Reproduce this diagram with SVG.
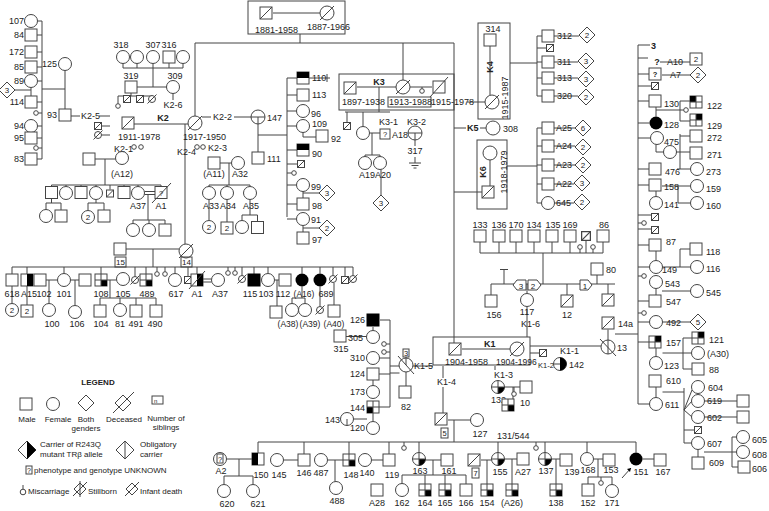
<svg xmlns="http://www.w3.org/2000/svg" width="769" height="511" viewBox="0 0 769 511">
<style>
.n{fill:#fff;stroke:#444;stroke-width:1}
.l{stroke:#444;stroke-width:1;fill:none}
.bx{fill:none;stroke:#444;stroke-width:1}
text{font-family:"Liberation Sans",Arial,sans-serif;font-size:9px;fill:#222}
.b{font-weight:bold}
.e{text-anchor:end}
.m{text-anchor:middle}
.g{font-size:8px}
.s7{font-size:7.5px}
</style>
<defs>
<rect id="S" class="n" x="-6" y="-6" width="12" height="12"/>
<circle id="C" class="n" r="6.5"/>
<circle id="c" class="n" r="2.3"/>
<path id="D" class="n" d="M0-8L8 0 0 8-8 0Z"/>
<g id="SD"><use href="#S"/><path class="l" d="M-6 6L6-6"/></g>
<g id="CD"><circle class="n" r="7"/><path class="l" d="M-7 7L7-7"/></g>
<g id="sd"><rect class="n" x="-3.5" y="-3.5" width="7" height="7"/><path class="l" d="M-3.5 3.5L3.5-3.5"/></g>
<g id="cd"><circle class="n" r="3.5"/><path class="l" d="M-4.5 4.5L4.5-4.5"/></g>
<g id="SBR"><use href="#S"/><rect x="0" y="0" width="6" height="6"/><path class="l" d="M0-6V6M-6 0H6"/></g>
<g id="STR"><use href="#S"/><rect x="0" y="-6" width="6" height="6"/><path class="l" d="M0-6V6M-6 0H6"/></g>
<g id="STL"><use href="#S"/><rect x="-6" y="-6" width="6" height="6"/><path class="l" d="M0-6V6M-6 0H6"/></g>
<g id="SBL"><use href="#S"/><rect x="-6" y="0" width="6" height="6"/><path class="l" d="M0-6V6M-6 0H6"/></g>
<g id="SR"><use href="#S"/><rect x="0" y="-6" width="6" height="12"/></g>
<g id="SL"><use href="#S"/><rect x="-6" y="-6" width="6" height="12"/></g>
<g id="ST"><use href="#S"/><rect x="-6" y="-6" width="12" height="6"/></g>
<rect id="SK" x="-6.5" y="-6.5" width="13" height="13"/>
<circle id="CK" r="6.5"/>
<g id="CBR"><use href="#C"/><path d="M0 0H6.5A6.5 6.5 0 0 1 0 6.5Z"/><path class="l" d="M0-6.5V6.5M-6.5 0H6.5"/></g>
<g id="CR"><use href="#C"/><path d="M0-6.5A6.5 6.5 0 0 1 0 6.5Z"/><path class="l" d="M-6.5 0H0"/></g>
<g id="CO"><circle class="n" r="7"/><path class="l" d="M-7 0H7M0 0V7"/></g>
</defs>
<rect width="769" height="511" fill="#fff"/>

<g id="connectors">
<path class="l" d="M42 21V159M37.5 21H42M37 35H42M37 52H42M37 67H42M37.5 81H42M37 102H42M38.3 113H42M37.5 126H42M37 138H42M38.3 148H42M37 159H42M31 87.5V96M15 90H31M42 89H65M65 70.5V109M71 116H80M99 116H110M101.5 126H110M101.5 135H110"/>
<path class="l" d="M137 87H166.5M153 68V87M123 68H183M123 63.5V68M137 63.5V68M153 63.5V68M169 63V68M183 63.5V68M131 93V96M118 96H152M118 96V103.7M173 93.5V100M134 124H188M202 117H211M234 117H251M258 124V152M258 135H287M287 78V217M287 78H297M287 95H297M287 111H296.5M287 126H296.5M287 150H297M287 164H297.5M287 173H291.7M287 185H296.5M287 204H297M287 219H296.5M309 78H330M327 74V82M303 132.5V137H316M303 191.5V198M303 193H319M303 225.5V232M303 228H319"/>
<path class="l" d="M273 13H320M300 34V43M195 43H454M195 43V116M403 43V80M454 43V343M185 124V244"/>
<path class="l" d="M220 163H231.5M229 163V185M209 185H250M209 185V186.5M227 185V186.5M250 185V186.5M209 199.5V220.5M227 199.5V222M250 199.5V215M242 215H257.5M242 215V220.5M257.5 215V221.5"/>
<path class="l" d="M95 159H115.5M105 159V185M51.5 185H161M51.5 185V186.5M66 185V186.5M81 185V186.5M96 185V186.5M110 185V189.5M124 185V186.5M138 185V186.5M161 185V186.5M144.5 191.5H155M144.5 194.5H155M148 194.5V220M133 220H165M133 220V223.5M149 220V223.5M165 220V224M51.5 198.5V203M46 203H61M46 203V209.5M61 203V210M96 199.5V203M88 203H104M88 203V210.5M104 203V210"/>
<path class="l" d="M126 249H179M153 249V267M12 267H353M12 267V274M27 267V274M64 267V273.5M101 267V274M135 267V276.5M146 267V274M157 267V271.7M165 267V271.7M175 267V273.5M188 267V276.5M197 267V274M228 267V270.7M235 267V270.7M242 267V275.5M254 267V274M268 267V273.5M302 267V273.5M320 267V273.5M333 267V275.5M345 267V276.5M353 267V275.5M46 280H57.5M49 280V303.5M70.5 280H79M75 280V305.5M107 280H116.5M110 280V298M100 298H156M100 298V305M120 298V303.5M136 298V305M156 298V305M12 286V303.5M27 286V305M203 279H211.5M203 282H211.5M274.5 280H279M277 280V306M302 286.5V298M292 298H305M292 298V303.5M305 298V303.5M320 286.5V306.5M334 283V305"/>
<path class="l" d="M357 87H396M410 87H432M422 87V88.7M379 87V112M345 112H390M347 112V122.5M363 112V126.5M369.5 133H380M372 133V155M365 155H380M365 155V156.5M380 155V156.5M381 169.5V195M415 140V146M415 157V163M409 163H421M411.5 165.5H418.5M413.5 168H416.5M467 102H485"/>
<path class="l" d="M490 46V95M510 63H537M537 36V96M537 36H542M537 48H546.5M537 62H542M537 78H542M537 96H542M554 36H579M554 62H578M554 78H578M554 96H578M454 128H466M480 128H486M490 160V186M454 192H482M507 166H537M537 128V203M537 128H542M537 146H542M537 165H542M537 184H542M537 203H541.5M554 128H575M554 146H575M554 165H575M554 184H574M554.5 203H574"/>
<path class="l" d="M480 242V253M499 242V253M516 242V253M534 242V253M552 242V253M570 242V253M586 240.5V253M580 249.3V253M593 249.3V253M603 242V253M480 253H603M543 253V284M491 284H615M491 284V295M504 270V284M500 269.5H508M527 284V293.5M567 284V295M597 275V284M608 284V294M527 306.5V337M608 329.5V340M615 334H638"/>
<path class="l" d="M462 349H510M530 346H601M530 353H539.5M390 366H433M443 366V378M443 387V413M495 366V370M504.5 387H520M514 387V391.7M513 387V399M390 320V407M380 320H390M386.3 344H390M386.3 352H390M379.5 358H390M379 374H390M379 407H390M390 373H399.5M406 372V386M373 380V385.5M373 413V421.5M353.5 419H367M346 336.5H366.5M373 327V330.5"/>
<path class="l" d="M448 420H470.5M454 420V442M258 442H636M258 442V453M304 442V454M349 442V454M389 442V454M404 442V445.7M419 442V452.5M498 442V452.5M536 442V445.7M545 442V452.5M587 442V452.5M636 442V452.5M226.5 459H252M239 459V476M224 476H253M224 476V484.5M253 476V484.5M283.5 460H298M327.5 460H343M335 460V481.5M371.5 460H383M425.5 460H441M433 460V475M402 475H466M402 475V483.5M425 475V484M445 475V484M466 475V484M481 460H491.5M487 460V484M504.5 459H517M512 459V484M551.5 459H560M556 459V484M593.5 459H603M598 459V477M588 477H612M588 477V484M612 477V484.5M601 477V480.7M642.5 459H654M622 478L631 468"/>
<path d="M631 468l-4 1 3 3z"/>
<path class="l" d="M638 45V404M638 45H650M638 58H648M660 62H690M638 74H649M662 75H690M638 86H651.5M638 101H649M638 123H649.5M638 138H650.5M638 169H649M656 107V116.5M656 110H680M680 101V121M680 101H690M680 121H690M680 110H683.7M656 144.5V152M656 152H690M680 134V169M680 136H690M677 169H690.5M638 185H649M656 191V196.5M662 186H690.5M678 186V203M678 203H690.5M638 215H651.5M638 223H641.7M638 229H651.5M638 245H649M656 251V260.5M638 267H649.5M662.5 267H690.5M680 249V267M680 249H690M638 276H641.7M656 288.5V295M662 291H690.5M638 301H649M638 313H641.7M638 322H649.5M662.5 322H690M638 342H649M656 348V356.5M662.5 353H691.5M683 338V369M683 338H692M683 369H692M656 387V397.5M638 404H649.5M662.5 392H684M684 388V443M684 410L692 390M684 410L692 401M684 410L692 417M684 430H694.5M684 443H691.5M704.5 401H737M704.5 417H737M698 449.5V457M704 452H732M732 437V467M732 437H736.5M732 452H736.5M732 467H738"/>
</g>

<g id="top">
<rect class="bx" x="248" y="1" width="97" height="33"/>
<use href="#SD" x="266" y="13"/><use href="#CD" x="327" y="13"/>
<text x="255" y="33">1881-1958</text><text x="307" y="30">1887-1966</text>
</g>

<g id="leftcol">
<g id="n107"><use href="#C" x="31" y="21"/><text x="24" y="24" class="e">107</text></g>
<g id="n84"><use href="#S" x="31" y="35"/><text x="24" y="38" class="e">84</text></g>
<g id="n172"><use href="#S" x="31" y="52"/><text x="24" y="55" class="e">172</text></g>
<g id="n85"><use href="#S" x="31" y="67"/><text x="24" y="70" class="e">85</text></g>
<g id="n89"><use href="#C" x="31" y="81"/><text x="24" y="84" class="e">89</text></g>
<g id="d3a"><use href="#D" x="7" y="90"/><text x="7" y="93" class="m g">3</text></g>
<g id="n114"><use href="#S" x="31" y="102"/><text x="24" y="105" class="e">114</text></g>
<g id="m1"><use href="#c" x="36" y="113"/></g>
<g id="n94"><use href="#C" x="31" y="126"/><text x="24" y="129" class="e">94</text></g>
<g id="n95"><use href="#S" x="31" y="138"/><text x="24" y="141" class="e">95</text></g>
<g id="m2"><use href="#c" x="36" y="148"/></g>
<g id="n83"><use href="#S" x="31" y="159"/><text x="24" y="162" class="e">83</text></g>
<g id="n125"><use href="#C" x="65" y="64"/><text x="57" y="67" class="e">125</text></g>
<g id="n93"><use href="#S" x="65" y="115"/><text x="57" y="118" class="e">93</text></g>
<g id="k25"><text x="81" y="119">K2-5</text><use href="#sd" x="98" y="126"/><use href="#cd" x="98" y="135"/></g>
</g>

<g id="k2fam">
<g id="n319"><use href="#S" x="131" y="87"/><text x="131" y="79" class="m">319</text></g>
<g id="n309"><use href="#C" x="173" y="87"/><text x="175" y="79" class="m">309</text></g>
<g id="n318"><use href="#C" x="123" y="57"/><text x="121" y="48" class="m">318</text></g>
<g id="n318b"><use href="#C" x="137" y="57"/></g>
<g id="n307"><use href="#C" x="153" y="57"/><text x="153" y="48" class="m">307</text></g>
<g id="n316"><use href="#S" x="169" y="57"/><text x="169" y="48" class="m">316</text></g>
<g id="n316b"><use href="#C" x="183" y="57"/></g>
<g id="k2sib"><use href="#c" x="118" y="106"/><use href="#sd" x="127" y="99"/><use href="#sd" x="140" y="99"/><use href="#cd" x="152" y="99"/></g>
<text x="173" y="108" class="m">K2-6</text>
<g id="K2"><use href="#SD" x="128" y="123"/><text x="163" y="121" class="m b">K2</text><text x="118" y="140">1911-1978</text><text x="114" y="152">K2-1</text><use href="#c" x="134" y="147"/><use href="#c" x="141" y="147"/></g>
<g id="K2w"><use href="#CD" x="195" y="123"/><text x="183" y="140">1917-1950</text><text x="177" y="155">K2-4</text><use href="#c" x="197" y="147"/><use href="#c" x="203" y="147"/><text x="208" y="151">K2-3</text><text x="213" y="120">K2-2</text></g>
<g id="nA12h"><use href="#S" x="89" y="159"/></g>
<g id="nA12"><use href="#C" x="122" y="158"/><text x="122" y="177" class="m">(A12)</text></g>
<g id="a12kids">
<use href="#S" x="51.5" y="192.5"/><use href="#C" x="66" y="193"/><use href="#S" x="81" y="192.5"/><use href="#C" x="96" y="193"/><use href="#sd" x="110" y="193.5"/><use href="#S" x="124" y="192.5"/><use href="#C" x="138" y="193"/><text x="138" y="209" class="m">A37</text>
<use href="#S" x="161" y="192.5"/><path class="l" d="M152 203L171 183"/><text x="161" y="195.5" class="m s7">?</text><text x="161" y="209" class="m">A1</text>
<use href="#C" x="46" y="216"/><use href="#S" x="61" y="216"/><use href="#C" x="88" y="217"/><text x="88" y="220" class="m g">2</text><use href="#S" x="104" y="216"/>
<use href="#C" x="133" y="230"/><use href="#C" x="149" y="230"/><use href="#S" x="165" y="230"/>
</g>
<g id="nA11"><use href="#S" x="214" y="163"/><text x="214" y="177" class="m">(A11)</text></g>
<g id="nA32"><use href="#C" x="238" y="163"/><text x="240" y="177" class="m">A32</text></g>
<g id="nA33"><use href="#C" x="209" y="193"/><text x="211" y="209" class="m">A33</text><use href="#C" x="209" y="227"/><text x="209" y="230" class="m g">2</text></g>
<g id="nA34"><use href="#C" x="227" y="193"/><text x="228" y="209" class="m">A34</text><use href="#S" x="227" y="228"/><text x="227" y="231" class="m g">2</text></g>
<g id="nA35"><use href="#C" x="250" y="193"/><text x="251" y="209" class="m">A35</text><use href="#C" x="242" y="227"/><use href="#S" x="257.5" y="227.5"/></g>
<g id="n147"><use href="#CO" x="258" y="117"/><text x="267" y="121">147</text></g>
<g id="n111"><use href="#S" x="258" y="158"/><text x="267" y="162">111</text></g>
<g id="n110"><use href="#ST" x="303" y="78"/><text x="312" y="81">110</text></g>
<g id="n113"><use href="#S" x="303" y="95"/><text x="312" y="98">113</text></g>
<g id="n96"><use href="#C" x="303" y="111"/><text x="311" y="117">96</text></g>
<g id="n109"><use href="#C" x="303" y="126"/><text x="312" y="127">109</text></g>
<g id="n92"><use href="#S" x="322" y="136"/><text x="331" y="142">92</text></g>
<g id="n90"><use href="#ST" x="303" y="150"/><text x="312" y="157">90</text></g>
<g id="x1"><use href="#sd" x="301" y="164"/><use href="#c" x="294" y="173"/></g>
<g id="n99"><use href="#C" x="303" y="185"/><text x="311" y="190">99</text><use href="#D" x="327" y="193"/><text x="327" y="196" class="m g">3</text></g>
<g id="n98"><use href="#S" x="303" y="204"/><text x="312" y="209">98</text></g>
<g id="n91"><use href="#C" x="303" y="219"/><text x="311" y="223">91</text><use href="#D" x="327" y="228"/><text x="327" y="231" class="m g">2</text></g>
<g id="n97"><use href="#S" x="303" y="238"/><text x="312" y="243">97</text></g>
</g>

<g id="gen15">
<g id="n15"><use href="#S" x="120" y="249"/><rect class="bx" x="115" y="257" width="11" height="10"/><text x="120.5" y="265" class="m g">15</text></g>
<g id="n14"><use href="#CD" x="186" y="251"/><rect class="bx" x="181" y="257" width="11" height="10"/><text x="186.5" y="265" class="m g">14</text></g>
<g id="n618"><use href="#S" x="12" y="280"/><text x="12" y="297" class="m">618</text><use href="#C" x="12" y="310"/><text x="12" y="313" class="m g">2</text></g>
<g id="nA15"><use href="#SR" x="27" y="280"/><text x="29" y="297" class="m">A15</text><use href="#S" x="27" y="311"/><text x="27" y="314" class="m g">2</text></g>
<g id="n102"><use href="#S" x="40" y="280"/><text x="44" y="297" class="m">102</text></g>
<g id="n101"><use href="#C" x="64" y="280"/><text x="64" y="297" class="m">101</text></g>
<g id="n101h"><use href="#S" x="85" y="280"/></g>
<g id="n100"><use href="#C" x="49" y="310"/><text x="52" y="327" class="m">100</text></g>
<g id="n106"><use href="#C" x="75" y="312"/><text x="77" y="327" class="m">106</text></g>
<g id="n108"><use href="#SBR" x="101" y="280"/><text x="101" y="297" class="m">108</text></g>
<g id="n105"><use href="#C" x="123" y="279"/><text x="123" y="297" class="m">105</text></g>
<g id="n104"><use href="#S" x="100" y="311"/><text x="101" y="327" class="m">104</text></g>
<g id="n81"><use href="#C" x="120" y="310"/><text x="120" y="327" class="m">81</text></g>
<g id="n491"><use href="#S" x="136" y="311"/><text x="136" y="327" class="m">491</text></g>
<g id="n490"><use href="#S" x="156" y="311"/><text x="155" y="327" class="m">490</text></g>
<g id="x2"><use href="#cd" x="135" y="280"/><use href="#c" x="157" y="274"/><use href="#c" x="165" y="274"/><use href="#sd" x="188" y="280"/><use href="#c" x="228" y="273"/><use href="#c" x="235" y="273"/><use href="#cd" x="242" y="279"/></g>
<g id="n489"><use href="#SBR" x="146" y="280"/><text x="147" y="297" class="m">489</text></g>
<g id="n617"><use href="#C" x="175" y="280"/><text x="176" y="297" class="m">617</text></g>
<g id="nA1"><use href="#SR" x="197" y="280"/><path class="l" d="M189 289L205 271"/><text x="197" y="297" class="m">A1</text></g>
<g id="nA37"><use href="#C" x="218" y="280"/><text x="220" y="297" class="m">A37</text></g>
<g id="n115"><use href="#SK" x="254" y="280"/><text x="250" y="297" class="m">115</text></g>
<g id="n103"><use href="#C" x="268" y="280"/><text x="266" y="297" class="m">103</text></g>
<g id="n112"><use href="#S" x="285" y="280"/><text x="283" y="297" class="m">112</text></g>
<g id="n112c"><use href="#S" x="276" y="312"/></g>
<g id="nA16"><use href="#CK" x="302" y="280"/><text x="304" y="297" class="m" style="font-size:8.5px">(A16)</text></g>
<g id="n689"><use href="#CK" x="320" y="280"/><text x="326" y="297" class="m">689</text></g>
<g id="x3"><use href="#cd" x="333" y="279"/><use href="#sd" x="345" y="280"/><use href="#cd" x="353" y="279"/><use href="#cd" x="320" y="310"/></g>
<g id="nA38"><use href="#C" x="292" y="310"/><text x="288" y="327" class="m" style="font-size:8.5px">(A38)</text></g>
<g id="nA39"><use href="#C" x="305" y="310"/><text x="310" y="327" class="m" style="font-size:8.5px">(A39)</text></g>
<g id="nA40"><use href="#S" x="334" y="311"/><text x="334" y="327" class="m" style="font-size:8.5px">(A40)</text></g>
</g>

<g id="k3">
<rect class="bx" x="339" y="74" width="115" height="36"/>
<use href="#SD" x="350" y="88"/><text x="379" y="85" class="m b">K3</text>
<use href="#CD" x="403" y="87"/><use href="#c" x="422" y="91"/>
<use href="#S" x="439" y="87"/><path class="l" d="M430 97L448 77"/>
<text x="342" y="105">1897-1938</text><rect class="bx" x="388" y="97" width="43" height="10"/><text x="389" y="105">1913-1988</text><text x="431" y="105">1915-1978</text>
<use href="#sd" x="347" y="126"/><use href="#C" x="363" y="133"/>
<rect class="n" x="380" y="129" width="10" height="10"/><text x="385" y="137" class="m s7">?</text>
<text x="379" y="125">K3-1</text><text x="392" y="138">A18</text>
<use href="#CO" x="415" y="133"/><text x="407" y="125">K3-2</text><text x="415" y="154" class="m">317</text>
<use href="#C" x="365" y="163"/><use href="#C" x="380" y="163"/><text x="367" y="178" class="m">A19</text><text x="383" y="178" class="m">A20</text>
<use href="#D" x="381" y="203"/><text x="381" y="206" class="m g">3</text>
</g>

<g id="k4">
<rect class="bx" x="478" y="23" width="32" height="96"/>
<use href="#S" x="490" y="40"/><text x="493" y="32" class="m">314</text>
<text transform="translate(493,67) rotate(-90)" class="m b">K4</text>
<use href="#CD" x="492" y="102"/>
<text transform="translate(508,98) rotate(-90)" class="m">1915-1987</text>
<g id="n312"><use href="#S" x="548" y="36"/><text x="557" y="39">312</text><use href="#D" x="587" y="35"/><text x="587" y="38" class="m g">2</text></g>
<use href="#sd" x="550" y="48"/>
<g id="n311"><use href="#S" x="548" y="62"/><text x="557" y="65">311</text><use href="#D" x="586" y="61"/><text x="586" y="64" class="m g">3</text></g>
<g id="n313"><use href="#S" x="548" y="78"/><text x="557" y="81">313</text><use href="#D" x="586" y="79"/><text x="586" y="82" class="m g">3</text></g>
<g id="n320"><use href="#S" x="548" y="96"/><text x="557" y="99">320</text><use href="#D" x="586" y="97"/><text x="586" y="100" class="m g">2</text></g>
</g>

<g id="k5"><text x="467" y="131" class="b">K5</text><circle class="n" cx="493" cy="128" r="7"/><text x="503" y="132">308</text></g>

<g id="k6">
<rect class="bx" x="477" y="140" width="30" height="69"/>
<circle class="n" cx="490" cy="153" r="7"/>
<text transform="translate(486,172) rotate(-90)" class="m b">K6</text>
<text transform="translate(507,172) rotate(-90)" class="m">1918-1979</text>
<use href="#SD" x="488" y="192"/>
<g id="nA25"><use href="#S" x="548" y="128"/><text x="556" y="131">A25</text><use href="#D" x="583" y="128"/><text x="583" y="131" class="m g">6</text></g>
<g id="nA24"><use href="#S" x="548" y="146"/><text x="556" y="149">A24</text><use href="#D" x="583" y="147"/><text x="583" y="150" class="m g">2</text></g>
<g id="nA23"><use href="#S" x="548" y="165"/><text x="556" y="168">A23</text><use href="#D" x="583" y="165"/><text x="583" y="168" class="m g">2</text></g>
<g id="nA22"><use href="#S" x="548" y="184"/><text x="556" y="187">A22</text><use href="#D" x="582" y="183"/><text x="582" y="186" class="m g">3</text></g>
<g id="n645"><use href="#C" x="548" y="203"/><text x="556" y="206">645</text><use href="#D" x="582" y="202"/><text x="582" y="205" class="m g">2</text></g>
</g>

<g id="row133">
<use href="#S" x="480" y="236"/><text x="480" y="228" class="m">133</text>
<use href="#S" x="499" y="236"/><text x="499" y="228" class="m">136</text>
<use href="#S" x="516" y="236"/><text x="516" y="228" class="m">170</text>
<use href="#S" x="534" y="236"/><text x="534" y="228" class="m">134</text>
<use href="#S" x="552" y="236"/><text x="553" y="228" class="m">135</text>
<use href="#S" x="570" y="236"/><text x="570" y="228" class="m">169</text>
<use href="#c" x="580" y="247"/><g transform="translate(586,236) scale(1.25)"><use href="#sd"/></g><use href="#c" x="593" y="247"/>
<use href="#S" x="603" y="236"/><text x="604" y="228" class="m">86</text>
<use href="#S" x="491" y="301"/><text x="494" y="318" class="m">156</text>
<polygon class="n" points="513,285 517,280 526,280 526,290 517,290"/><text x="521" y="288.5" class="m g">3</text>
<polygon class="n" points="528,280 537,280 541,285 537,290 528,290"/><text x="533" y="288.5" class="m g">2</text>
<use href="#C" x="527" y="300"/><text x="527" y="315" class="m">117</text><text x="521" y="327">K1-6</text>
<use href="#SD" x="567" y="301"/><text x="567" y="318" class="m">12</text>
<use href="#S" x="597" y="269"/><text x="606" y="273">80</text>
<polygon class="n" points="580,280 588,280 592,285 588,290 580,290"/><text x="585" y="288.5" class="m g">1</text>
<use href="#SD" x="608" y="300"/>
<use href="#SD" x="608" y="323"/><text x="618" y="327">14a</text>
<circle class="n" cx="608" cy="347" r="7"/><path class="l" d="M600 339L616 356M608 340V354"/><text x="617" y="351">13</text>
</g>

<g id="k1">
<rect class="bx" x="433" y="337" width="97" height="28"/>
<use href="#SD" x="455" y="349"/><text x="484" y="347" class="b">K1</text><use href="#CD" x="517" y="349"/>
<text x="445" y="365">1904-1958</text><text x="496" y="365" style="font-size:8.5px">1904-1996</text><text x="538" y="368" style="font-size:7.5px">K1-2</text><text x="560" y="354">K1-1</text>
<use href="#sd" x="543" y="353"/>
<use href="#CR" x="560" y="364"/><text x="569" y="368">142</text>
<text x="437" y="385">K1-4</text><text x="494" y="378">K1-3</text>
<use href="#CBR" x="498" y="387"/><text x="491" y="403">132</text>
<use href="#c" x="514" y="394"/><use href="#S" x="526" y="387"/><text x="520" y="406">10</text>
<use href="#SBR" x="508" y="405"/>
<circle class="n" cx="406" cy="365" r="7"/><path class="l" d="M398 356L414 374M406 357V365"/><rect class="n" x="403" y="349" width="6" height="8"/><text x="406" y="356" class="m s7">3</text><text x="414" y="369">K1-5</text>
<use href="#S" x="405" y="392"/><text x="406" y="410" class="m">82</text>
</g>

<g id="g126">
<use href="#SK" x="373" y="320"/><text x="365" y="323" class="e">126</text>
<use href="#S" x="340" y="336"/><text x="341" y="352" class="m">315</text><text x="348" y="341">305</text>
<use href="#C" x="373" y="337"/><use href="#c" x="384" y="344"/><use href="#c" x="384" y="352"/>
<use href="#C" x="373" y="358"/><text x="365" y="361" class="e">310</text>
<use href="#S" x="373" y="374"/><text x="365" y="377" class="e">124</text>
<use href="#C" x="373" y="392"/><text x="365" y="395" class="e">173</text>
<use href="#SBL" x="373" y="407"/><text x="365" y="411" class="e">144</text>
<use href="#C" x="347" y="419"/><path class="l" d="M347 419V425.5"/><text x="340" y="423" class="e">143</text>
<use href="#C" x="373" y="428"/><text x="365" y="431" class="e">120</text>
</g>

<g id="bottom">
<use href="#SD" x="441" y="419"/><rect class="n" x="441" y="428" width="7" height="10"/><text x="444.5" y="436" class="m s7">5</text>
<use href="#C" x="477" y="420"/><text x="480" y="437" class="m">127</text>
<text x="497" y="439">131/544</text>
<g id="nA2"><use href="#C" x="220" y="459"/><rect class="n" x="217" y="454" width="6" height="9"/><text x="220" y="461.5" class="m s7">?</text><text x="221" y="474" class="m">A2</text></g>
<g id="n150"><use href="#SL" x="258" y="459"/><text x="261" y="478" class="m">150</text></g>
<g id="n620"><use href="#C" x="224" y="491"/><text x="227" y="507" class="m">620</text></g>
<g id="n621"><use href="#C" x="253" y="491"/><text x="258" y="507" class="m">621</text></g>
<g id="n145"><use href="#C" x="277" y="460"/><text x="279" y="478" class="m">145</text></g>
<g id="n146"><use href="#S" x="304" y="460"/><text x="304" y="476" class="m">146</text></g>
<g id="n487"><use href="#C" x="321" y="460"/><text x="321" y="476" class="m">487</text></g>
<g id="n488"><use href="#C" x="336" y="488"/><text x="337" y="504" class="m">488</text></g>
<g id="n148"><use href="#SBR" x="349" y="460"/><text x="351" y="478" class="m">148</text></g>
<g id="n140"><use href="#C" x="365" y="460"/><text x="367" y="476" class="m">140</text></g>
<g id="n119"><use href="#S" x="389" y="460"/><text x="392" y="478" class="m">119</text></g>
<g id="nA28"><use href="#S" x="377" y="490"/><text x="377" y="506" class="m">A28</text></g>
<use href="#c" x="404" y="448"/><use href="#c" x="536" y="448"/><use href="#c" x="601" y="483"/>
<g id="n163"><use href="#CBR" x="419" y="459"/><text x="420" y="474" class="m">163</text></g>
<g id="n161"><use href="#S" x="447" y="460"/><text x="449" y="474" class="m">161</text></g>
<g id="n162"><use href="#C" x="402" y="490"/><text x="402" y="506" class="m">162</text></g>
<g id="n164"><use href="#SBR" x="425" y="490"/><text x="425" y="506" class="m">164</text></g>
<g id="n165"><use href="#SBR" x="445" y="490"/><text x="445" y="506" class="m">165</text></g>
<g id="n166"><use href="#S" x="466" y="490"/><text x="466" y="506" class="m">166</text></g>
<g id="n7"><use href="#SD" x="474" y="460"/><rect class="n" x="472" y="468" width="7" height="10"/><text x="475.5" y="476" class="m s7">7</text></g>
<g id="n155"><use href="#CBR" x="498" y="459"/><text x="500" y="475" class="m">155</text></g>
<g id="nA27"><use href="#S" x="523" y="459"/><text x="523" y="475" class="m">A27</text></g>
<g id="n154"><use href="#SBR" x="487" y="490"/><text x="487" y="506" class="m">154</text></g>
<g id="nA26"><use href="#SBR" x="512" y="490"/><text x="512" y="506" class="m">(A26)</text></g>
<g id="n137"><use href="#CBR" x="545" y="459"/><text x="546" y="474" class="m">137</text></g>
<g id="n139"><use href="#S" x="566" y="460"/><text x="572" y="475" class="m">139</text></g>
<g id="n138"><use href="#SBR" x="556" y="490"/><text x="556" y="506" class="m">138</text></g>
<g id="n168"><use href="#C" x="587" y="459"/><text x="588" y="473" class="m">168</text></g>
<g id="n153"><use href="#S" x="609" y="460"/><text x="611" y="473" class="m">153</text></g>
<g id="n152"><use href="#S" x="588" y="490"/><text x="588" y="506" class="m">152</text></g>
<g id="n171"><use href="#C" x="612" y="491"/><text x="612" y="506" class="m">171</text></g>
<g id="n151"><use href="#CK" x="636" y="459"/><text x="641" y="475" class="m">151</text></g>
<g id="n167"><use href="#S" x="660" y="460"/><text x="663" y="475" class="m">167</text></g>
</g>

<g id="rightcol">
<text x="651" y="49" class="b">3</text>
<text x="657" y="65" class="m b">?</text><text x="667" y="65">A10</text><use href="#S" x="696" y="59"/><text x="696" y="62" class="m g">2</text>
<use href="#S" x="655" y="74"/><text x="655" y="77" class="m b s7">?</text><text x="670" y="78">A7</text><use href="#D" x="698" y="75"/><text x="698" y="78" class="m g">2</text>
<use href="#sd" x="655" y="86"/>
<g id="n130"><use href="#S" x="655" y="101"/><text x="664" y="107">130</text></g>
<g id="n128"><use href="#CK" x="656" y="123"/><text x="664" y="128">128</text></g>
<use href="#c" x="686" y="110"/>
<g id="n122"><use href="#STL" x="696" y="102"/><text x="707" y="109">122</text></g>
<g id="n129"><use href="#STR" x="696" y="120"/><text x="707" y="129">129</text></g>
<use href="#C" x="657" y="138"/><use href="#C" x="670" y="152"/><text x="664" y="145">475</text>
<g id="n272"><use href="#S" x="696" y="136"/><text x="707" y="141">272</text></g>
<g id="n271"><use href="#S" x="696" y="153"/><text x="707" y="158">271</text></g>
<g id="n273"><use href="#C" x="697" y="169"/><text x="706" y="175">273</text></g>
<g id="n476"><use href="#S" x="655" y="169"/><text x="665" y="175">476</text></g>
<g id="n158"><use href="#S" x="655" y="185"/><text x="664" y="190">158</text></g>
<g id="n141"><use href="#C" x="656" y="203"/><text x="664" y="208">141</text></g>
<g id="n159"><use href="#C" x="697" y="186"/><text x="706" y="192">159</text></g>
<g id="n160"><use href="#C" x="697" y="203"/><text x="706" y="209">160</text></g>
<use href="#sd" x="655" y="217"/><use href="#c" x="644" y="223"/><use href="#sd" x="655" y="230"/>
<g id="n87"><use href="#S" x="655" y="245"/><text x="666" y="245">87</text></g>
<g id="n149"><use href="#C" x="656" y="267"/><text x="662" y="273">149</text></g>
<g id="n118"><use href="#S" x="696" y="249"/><text x="706" y="255">118</text></g>
<g id="n116"><use href="#C" x="697" y="267"/><text x="706" y="272">116</text></g>
<use href="#c" x="644" y="276"/>
<g id="n543"><use href="#C" x="656" y="282"/><text x="665" y="287">543</text></g>
<g id="n545"><use href="#C" x="697" y="291"/><text x="706" y="296">545</text></g>
<g id="n547"><use href="#S" x="655" y="301"/><text x="666" y="305">547</text></g>
<use href="#c" x="644" y="313"/>
<g id="n492"><use href="#C" x="656" y="322"/><text x="666" y="326">492</text><use href="#D" x="698" y="322"/><text x="698" y="325" class="m g">5</text></g>
<g id="n157"><use href="#STR" x="655" y="342"/><text x="666" y="346">157</text></g>
<g id="n121"><use href="#STR" x="698" y="338"/><text x="709" y="343">121</text></g>
<g id="nA30"><use href="#C" x="698" y="353"/><text x="707" y="357">(A30)</text></g>
<g id="n123"><use href="#C" x="656" y="363"/><text x="664" y="369">123</text></g>
<g id="n88"><use href="#S" x="698" y="369"/><text x="709" y="373">88</text></g>
<g id="n610"><use href="#S" x="655" y="381"/><text x="666" y="384">610</text></g>
<g id="n611"><use href="#C" x="656" y="404"/><text x="665" y="408">611</text></g>
<g id="n604"><use href="#C" x="698" y="387"/><text x="708" y="391">604</text></g>
<g id="n619"><use href="#C" x="698" y="401"/><text x="707" y="404">619</text><use href="#S" x="743" y="401"/></g>
<g id="n602"><use href="#C" x="698" y="417"/><text x="707" y="421">602</text><use href="#S" x="743" y="417"/></g>
<use href="#sd" x="698" y="430"/>
<g id="n607"><use href="#C" x="698" y="443"/><text x="707" y="447">607</text></g>
<g id="n609"><use href="#S" x="698" y="463"/><text x="709" y="466">609</text></g>
<g id="n605"><use href="#C" x="743" y="437"/><text x="752" y="443">605</text></g>
<g id="n608"><use href="#C" x="743" y="452"/><text x="752" y="458">608</text></g>
<g id="n606"><use href="#S" x="744" y="467"/><text x="752" y="472">606</text></g>
</g>

<g id="legend">
<text x="98" y="385" class="m b g">LEGEND</text>
<rect class="n" x="20" y="398" width="12" height="12"/><circle class="n" cx="53" cy="404" r="6.5"/>
<path class="n" d="M86 395L94 403 86 411 78 403Z"/>
<path class="n" d="M123 395L131 403 123 411 115 403Z"/><path class="l" d="M113 413L134 392"/>
<rect class="n" x="152" y="396" width="11" height="8"/><text x="154" y="402.5" style="font-size:6px">n</text>
<text x="27" y="422" class="m g">Male</text><text x="58" y="422" class="m g">Female</text><text x="86" y="422" class="m g">Both</text><text x="86" y="431" class="m g">genders</text><text x="124" y="422" class="m g">Deceased</text><text x="166" y="421" class="m g">Number of</text><text x="166" y="430" class="m g">siblings</text>
<path class="n" d="M27 441L36 450 27 459 18 450Z"/><path d="M27 441L36 450 27 459Z"/>
<text x="40" y="447" class="g">Carrier of R243Q</text><text x="40" y="457" class="g">mutant TRβ allele</text>
<path class="n" d="M125 441L134 450 125 459 116 450Z"/><path class="l" d="M125 441V459"/>
<text x="140" y="447" class="g">Obligatory</text><text x="140" y="457" class="g">carrier</text>
<rect class="n" x="26" y="466" width="6" height="8"/><text x="29" y="473" class="m" style="font-size:7px">?</text><text x="34" y="473" class="g">phenotype and genotype UNKNOWN</text>
<circle class="n" cx="23" cy="492" r="2.8"/><path class="l" d="M23 485V489"/><text x="28" y="494" class="g">Miscarriage</text>
<path class="n" d="M80 483L86 489 80 495 74 489Z"/><path class="l" d="M73 496L87 482M80 481V497"/><text x="88" y="494" class="g">Stillborn</text>
<path class="n" d="M132 483L138 489 132 495 126 489Z"/><path class="l" d="M125 496L139 482"/><text x="140" y="494" class="g">Infant death</text>
</g>
</svg>
